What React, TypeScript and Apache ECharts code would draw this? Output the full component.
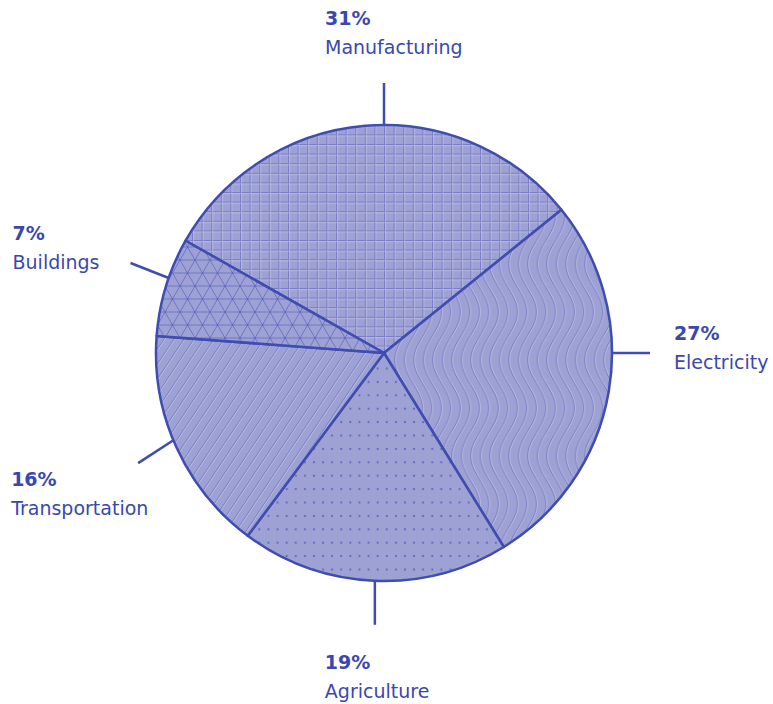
import React, { useEffect, useRef } from "react";
import * as echarts from "echarts";

// ---- data ----
const categories = ["Manufacturing", "Electricity", "Agriculture", "Transportation", "Buildings"];
const shares = [31, 27, 19, 16, 7];

// ---- style ----
const W = 773;
const H = 704;
const CX = 384;
const CY = 353;
const R = 228;
const START_ANGLE = 150.5;
const FILL = "#9ea1d4";
const STROKE = "#3f4cb0";
const TEXT = "#3a48ad";
const FONT = "DejaVu Sans";
const FONT_SIZE = 19;
const LINE_H = 29;
// label leader: start angle on the rim, direction, length
const leaderStart = [90, 0, -92.3, 202.5, 160.8];
const leaderDir = [90, 0, -90, 213, 158.5];
const leaderLen = [42, 38, 44, 42, 41];
// text block top-left offsets from leader end
const labelOffsets = [
  [-59, -79.5],
  [24, -34.5],
  [-50, 22.5],
  [-127, 1.5],
  [-118, -44.5],
];

const svgUrl = (w: number, h: number, body: string) =>
  "data:image/svg+xml;charset=utf-8," +
  encodeURIComponent(
    `<svg xmlns="http://www.w3.org/2000/svg" width="${w}" height="${h}" viewBox="0 0 ${w} ${h}"><rect width="${w}" height="${h}" fill="${FILL}"/>${body}</svg>`
  );

const DARK = "rgba(62,74,178,0.42)";
const LIGHT = "rgba(255,255,255,0.28)";

function gridPattern() {
  const s = 9.6;
  const body =
    `<path d="M0.5 0V${s}M0 0.5H${s}" stroke="${DARK}" stroke-width="1" fill="none"/>` +
    `<path d="M1.6 0V${s}M0 1.6H${s}" stroke="${LIGHT}" stroke-width="1" fill="none"/>`;
  return { image: svgUrl(s, s, body), repeat: "repeat", imageWidth: s, imageHeight: s };
}

function wavePattern() {
  const w = 9.5;
  const h = 96;
  const amp = 9;
  let d = "";
  let dl = "";
  for (let k = -3; k <= 3; k++) {
    const ox = w / 2 + k * w;
    let p = "";
    let pl = "";
    for (let y = 0; y <= h; y += 2) {
      const x = ox + amp * Math.sin((2 * Math.PI * y) / h);
      p += (y === 0 ? "M" : "L") + x.toFixed(2) + " " + y;
      pl += (y === 0 ? "M" : "L") + (x + 1.1).toFixed(2) + " " + y;
    }
    d += p;
    dl += pl;
  }
  const body =
    `<path d="${d}" stroke="${DARK}" stroke-width="0.9" fill="none"/>` +
    `<path d="${dl}" stroke="${LIGHT}" stroke-width="0.9" fill="none"/>`;
  return { image: svgUrl(w, h, body), repeat: "repeat", imageWidth: w, imageHeight: h };
}

function dotPattern() {
  const w = 9.1;
  const h = 13.4;
  const body = `<rect x="${w / 2 - 1}" y="${h / 2 - 1}" width="2" height="2" fill="rgba(62,74,178,0.6)"/>`;
  return { image: svgUrl(w, h, body), repeat: "repeat", imageWidth: w, imageHeight: h };
}

function diagPattern() {
  const w = 10;
  const h = 15;
  const seg = (o: number) => `M${o} ${h}L${o + w} 0`;
  const d = seg(-w) + seg(0) + seg(w);
  const dl = [-w, 0, w].map((o) => `M${o + 1.2} ${h}L${o + w + 1.2} 0`).join("");
  const body =
    `<path d="${d}" stroke="${DARK}" stroke-width="0.9" fill="none"/>` +
    `<path d="${dl}" stroke="${LIGHT}" stroke-width="0.9" fill="none"/>`;
  return { image: svgUrl(w, h, body), repeat: "repeat", imageWidth: w, imageHeight: h };
}

function triPattern() {
  const s = 15;
  const h = 13;
  const H2 = 2 * h;
  let d = `M-1 0H${s + 1}M-1 ${h}H${s + 1}M-1 ${H2}H${s + 1}`;
  const lines = [
    [0, 0, s / 2, h],
    [s, 0, s / 2, h],
    [s / 2, h, 0, H2],
    [s / 2, h, s, H2],
    [0, 0, -s / 2, h],
    [s, 0, 1.5 * s, h],
    [-s / 2, h, 0, H2],
    [1.5 * s, h, s, H2],
    [s / 2, -h, 0, 0],
    [s / 2, -h, s, 0],
    [0, H2, s / 2, H2 + h],
    [s, H2, s / 2, H2 + h],
  ];
  for (const [a, b, c, e] of lines) d += `M${a} ${b}L${c} ${e}`;
  const body = `<path d="${d}" stroke="rgba(62,74,178,0.5)" stroke-width="1" fill="none"/>`;
  return { image: svgUrl(s, H2, body), repeat: "repeat", imageWidth: s, imageHeight: H2 };
}

const patterns = [gridPattern(), wavePattern(), dotPattern(), diagPattern(), triPattern()];

export default function App() {
  const ref = useRef<HTMLDivElement>(null);
  useEffect(() => {
    if (!ref.current) return;
    const chart = echarts.init(ref.current, null, { renderer: "svg", width: W, height: H });
    const toRad = Math.PI / 180;
    chart.setOption({
      animation: false,
      backgroundColor: "#ffffff",
      series: [
        {
          type: "pie",
          center: [CX, CY],
          radius: [0, R],
          startAngle: START_ANGLE,
          clockwise: true,
          avoidLabelOverlap: false,
          data: categories.map((name, i) => ({
            name,
            value: shares[i],
            itemStyle: { color: patterns[i] },
          })),
          itemStyle: { borderColor: STROKE, borderWidth: 2.5 },
          emphasis: { disabled: true },
          label: {
            show: true,
            position: "outside",
            formatter: (p: any) => `{p|${p.value}%}\n{n|${p.name}}`,
            rich: {
              p: {
                fontFamily: FONT,
                fontWeight: 700,
                fontSize: FONT_SIZE,
                lineHeight: LINE_H,
                color: TEXT,
              },
              n: {
                fontFamily: FONT,
                fontWeight: 400,
                fontSize: FONT_SIZE,
                lineHeight: LINE_H,
                color: TEXT,
              },
            },
          },
          labelLine: {
            show: true,
            lineStyle: { color: STROKE, width: 2.5 },
          },
          labelLayout: (params: any) => {
            const i = params.dataIndex;
            const a = leaderStart[i] * toRad;
            const b = leaderDir[i] * toRad;
            const x0 = CX + R * Math.cos(a);
            const y0 = CY - R * Math.sin(a);
            const x1 = x0 + leaderLen[i] * Math.cos(b);
            const y1 = y0 - leaderLen[i] * Math.sin(b);
            return {
              x: x1 + labelOffsets[i][0],
              y: y1 + labelOffsets[i][1],
              align: "left",
              verticalAlign: "top",
              labelLinePoints: [
                [x0, y0],
                [x1, y1],
                [x1, y1],
              ],
            };
          },
        },
      ],
    });
    return () => chart.dispose();
  }, []);
  return (
    <div
      ref={ref}
      style={{ position: "fixed", left: 0, top: 0, width: W, height: H, background: "#fff" }}
    />
  );
}
